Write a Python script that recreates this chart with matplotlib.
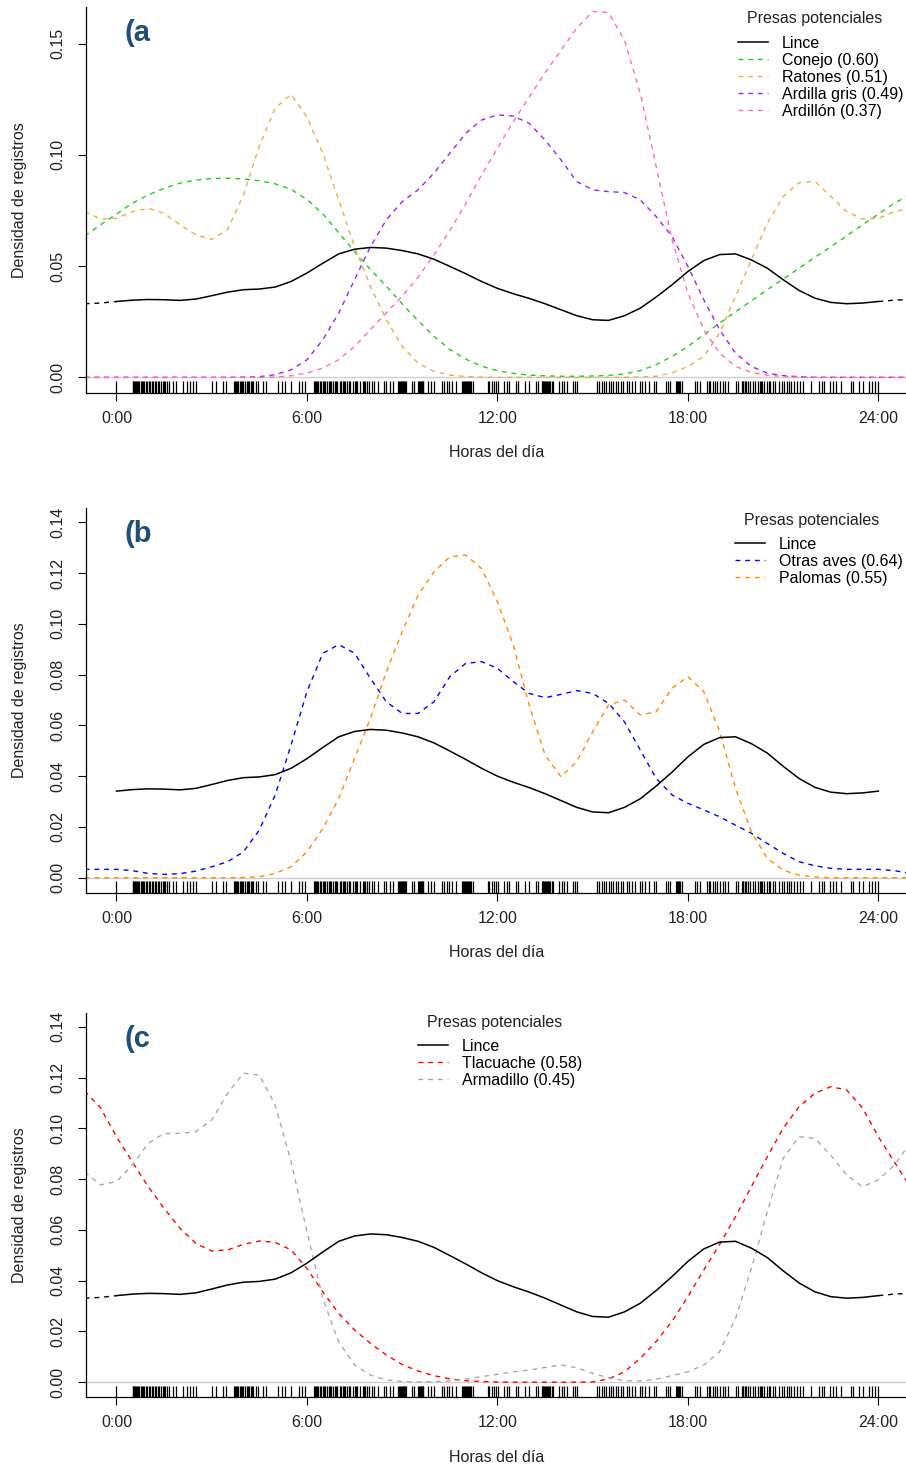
import numpy as np
import matplotlib
matplotlib.use("Agg")
import matplotlib.pyplot as plt

plt.rcParams['font.family'] = ['Liberation Sans', 'DejaVu Sans']

# hours of the day where the density curves were read (every half hour)
hours = np.arange(-1, 25.01, 0.5)

lince = [0.0331, 0.0334, 0.0341, 0.0347, 0.0350, 0.0349, 0.0346, 0.0352, 0.0367, 0.0383,
         0.0394, 0.0397, 0.0406, 0.0431, 0.0469, 0.0513, 0.0555, 0.0576, 0.0584, 0.0581,
         0.0570, 0.0555, 0.0531, 0.0499, 0.0466, 0.0431, 0.0400, 0.0376, 0.0355, 0.0331,
         0.0304, 0.0277, 0.0259, 0.0256, 0.0277, 0.0311, 0.0361, 0.0416, 0.0476, 0.0525,
         0.0552, 0.0555, 0.0528, 0.0491, 0.0439, 0.0391, 0.0356, 0.0337, 0.0331, 0.0334,
         0.0341, 0.0347, 0.0350]

# panel (a)
conejo = [0.0636, 0.0686, 0.0734, 0.0783, 0.0820, 0.0850, 0.0873, 0.0887, 0.0894, 0.0895,
          0.0892, 0.0884, 0.0870, 0.0845, 0.0800, 0.0735, 0.0650, 0.0565, 0.0485, 0.0410,
          0.0330, 0.0255, 0.0185, 0.0125, 0.0082, 0.0050, 0.0030, 0.0018, 0.0010, 0.0007,
          0.0005, 0.0005, 0.0006, 0.0009, 0.0015, 0.0030, 0.0057, 0.0094, 0.0139, 0.0192,
          0.0244, 0.0295, 0.0344, 0.0394, 0.0442, 0.0490, 0.0540, 0.0587, 0.0636, 0.0686,
          0.0734, 0.0783, 0.0820]
ratones = [0.0745, 0.0712, 0.0715, 0.0745, 0.0760, 0.0738, 0.0686, 0.0641, 0.0620, 0.0665,
           0.0820, 0.1040, 0.1210, 0.1272, 0.1170, 0.1007, 0.0798, 0.0588, 0.0409, 0.0259,
           0.0139, 0.0064, 0.0027, 0.0010, 0.0004, 0.0001, 0.0000, 0.0000, 0.0000, 0.0000,
           0.0000, 0.0000, 0.0000, 0.0000, 0.0000, 0.0001, 0.0005, 0.0020, 0.0049, 0.0094,
           0.0199, 0.0364, 0.0528, 0.0693, 0.0813, 0.0875, 0.0882, 0.0813, 0.0745, 0.0712,
           0.0715, 0.0745, 0.0760]
ardilla_gris = [0.0, 0.0, 0.0, 0.0, 0.0, 0.0, 0.0, 0.0, 0.0, 0.0,
                0.0001, 0.0003, 0.0012, 0.0034, 0.0079, 0.0169, 0.0289, 0.0439, 0.0588, 0.0708,
                0.0790, 0.0843, 0.0918, 0.1007, 0.1097, 0.1157, 0.1180, 0.1175, 0.1142, 0.1067,
                0.0978, 0.0880, 0.0843, 0.0835, 0.0831, 0.0798, 0.0723, 0.0633, 0.0499, 0.0349,
                0.0214, 0.0109, 0.0049, 0.0019, 0.0008, 0.0003, 0.0, 0.0, 0.0, 0.0,
                0.0, 0.0, 0.0]
ardillon = [0.0, 0.0, 0.0, 0.0, 0.0, 0.0, 0.0, 0.0, 0.0, 0.0,
            0.0, 0.0, 0.0001, 0.0007, 0.0019, 0.0042, 0.0079, 0.0139, 0.0215, 0.0290,
            0.0365, 0.0450, 0.0550, 0.0660, 0.0780, 0.0910, 0.1030, 0.1150, 0.1260, 0.1370,
            0.1470, 0.1570, 0.1645, 0.1640, 0.1516, 0.1277, 0.0948, 0.0618, 0.0379, 0.0214,
            0.0109, 0.0049, 0.0022, 0.0010, 0.0004, 0.0001, 0.0, 0.0, 0.0, 0.0,
            0.0, 0.0, 0.0]

# panel (b)
otras_aves = [0.0033, 0.0033, 0.0033, 0.0028, 0.0017, 0.0013, 0.0016, 0.0026, 0.0043, 0.0063,
              0.0102, 0.0188, 0.0326, 0.0523, 0.0733, 0.0884, 0.0918, 0.0884, 0.0785, 0.0693,
              0.0647, 0.0647, 0.0693, 0.0792, 0.0844, 0.0851, 0.0825, 0.0772, 0.0726, 0.0709,
              0.0722, 0.0737, 0.0726, 0.0687, 0.0614, 0.0503, 0.0391, 0.0326, 0.0293, 0.0267,
              0.0240, 0.0207, 0.0175, 0.0135, 0.0096, 0.0063, 0.0047, 0.0037, 0.0033, 0.0033,
              0.0033, 0.0028, 0.0017]
palomas = [0.0, 0.0, 0.0, 0.0, 0.0, 0.0, 0.0, 0.0, 0.0, 0.0,
           0.0001, 0.0004, 0.0017, 0.0043, 0.0102, 0.0194, 0.0312, 0.0470, 0.0628, 0.0811,
           0.0969, 0.1113, 0.1205, 0.1264, 0.1271, 0.1218, 0.1087, 0.0916, 0.0680, 0.0483,
           0.0398, 0.0457, 0.0575, 0.0680, 0.0700, 0.0641, 0.0654, 0.0746, 0.0792, 0.0733,
           0.0575, 0.0352, 0.0181, 0.0076, 0.0030, 0.0010, 0.0003, 0.0, 0.0, 0.0,
           0.0, 0.0, 0.0]

# panel (c)
tlacuache = [0.1147, 0.1080, 0.0967, 0.0868, 0.0770, 0.0685, 0.0606, 0.0547, 0.0517, 0.0521,
             0.0543, 0.0556, 0.0551, 0.0521, 0.0448, 0.0356, 0.0271, 0.0206, 0.0153, 0.0107,
             0.0070, 0.0044, 0.0026, 0.0013, 0.0006, 0.0003, 0.0001, 0.0, 0.0, 0.0,
             0.0, 0.0, 0.0001, 0.0013, 0.0041, 0.0094, 0.0160, 0.0240, 0.0337, 0.0442,
             0.0543, 0.0652, 0.0770, 0.0888, 0.1000, 0.1085, 0.1138, 0.1164, 0.1151, 0.1080,
             0.0967, 0.0868, 0.0770]
armadillo = [0.0829, 0.0777, 0.0790, 0.0855, 0.0941, 0.0980, 0.0980, 0.0987, 0.1033, 0.1138,
             0.1217, 0.1210, 0.1092, 0.0869, 0.0593, 0.0330, 0.0159, 0.0068, 0.0028, 0.0009,
             0.0003, 0.0001, 0.0002, 0.0005, 0.0012, 0.0022, 0.0031, 0.0041, 0.0048, 0.0058,
             0.0068, 0.0057, 0.0035, 0.0018, 0.0006, 0.0005, 0.0012, 0.0026, 0.0041, 0.0068,
             0.0120, 0.0251, 0.0448, 0.0672, 0.0882, 0.0967, 0.0960, 0.0894, 0.0816, 0.0770,
             0.0797, 0.0855, 0.0941]

# times of the lynx records (rug)
rug = [0.0, 0.51, 0.53, 0.55, 0.58, 0.61, 0.65, 0.69, 0.72, 0.76, 0.79, 0.84, 0.88, 0.93, 0.97,
       1.03, 1.07, 1.11, 1.16, 1.21, 1.26, 1.30, 1.35, 1.39, 1.45, 1.49, 1.53, 1.60, 1.66, 1.79,
       1.87, 2.10, 2.21, 2.31, 2.42, 2.50, 3.00, 3.13, 3.34, 3.45, 3.70, 3.73, 3.76, 3.80, 3.84,
       3.88, 3.91, 3.96, 4.00, 4.05, 4.10, 4.15, 4.19, 4.23, 4.27, 4.31, 4.39, 4.47, 4.60, 4.71,
       5.10, 5.20, 5.31, 5.49, 5.76, 5.83, 5.94, 6.22, 6.25, 6.28, 6.32, 6.36, 6.40, 6.43, 6.51,
       6.55, 6.58, 6.64, 6.68, 6.72, 6.76, 6.81, 6.88, 6.92, 6.96, 7.04, 7.08, 7.12, 7.16, 7.20,
       7.27, 7.31, 7.35, 7.44, 7.51, 7.55, 7.58, 7.67, 7.75, 7.79, 7.83, 7.90, 7.96, 8.04, 8.12,
       8.25, 8.43, 8.49, 8.63, 8.70, 8.88, 8.90, 8.93, 8.96, 8.98, 9.01, 9.03, 9.06, 9.09, 9.13,
       9.32, 9.38, 9.51, 9.53, 9.56, 9.59, 9.61, 9.64, 9.66, 9.82, 9.91, 9.99, 10.26, 10.33,
       10.40, 10.47, 10.56, 10.68, 10.89, 10.92, 10.94, 10.97, 11.00, 11.03, 11.06, 11.11, 11.14,
       11.17, 11.22, 11.69, 11.75, 11.82, 11.88, 11.94, 12.01, 12.22, 12.29, 12.37, 12.58, 12.64,
       12.87, 12.99, 13.20, 13.27, 13.39, 13.42, 13.44, 13.47, 13.50, 13.53, 13.55, 13.60, 13.62,
       13.65, 13.71, 13.76, 13.95, 14.02, 14.11, 14.19, 14.37, 14.44, 14.52, 15.14, 15.21, 15.28,
       15.35, 15.43, 15.50, 15.57, 15.65, 15.72, 15.81, 15.89, 15.96, 16.07, 16.15, 16.24, 16.32,
       16.49, 16.56, 16.64, 16.77, 16.93, 16.99, 17.31, 17.38, 17.45, 17.64, 17.67, 17.70, 17.73,
       17.75, 17.81, 18.22, 18.29, 18.38, 18.59, 18.65, 18.71, 18.78, 18.85, 18.92, 19.01, 19.09,
       19.18, 19.26, 19.51, 19.59, 19.69, 19.72, 19.74, 19.79, 19.83, 19.90, 19.97, 20.06, 20.12,
       20.20, 20.27, 20.30, 20.33, 20.39, 20.48, 20.55, 20.60, 20.67, 20.74, 20.88, 20.95, 21.03,
       21.11, 21.18, 21.25, 21.33, 21.45, 21.53, 21.61, 21.87, 22.14, 22.22, 22.30, 22.49, 22.56,
       22.65, 22.82, 23.13, 23.20, 23.40, 23.50, 23.71, 23.79, 23.88, 23.98]

xticks = [0, 6, 12, 18, 24]
xticklabels = ["0:00", "6:00", "12:00", "18:00", "24:00"]

panels = [
    {"tag": "(a", "top": 7.0, "bottom": 392.7, "ylim": (-0.0069, 0.1665),
     "yticks": [0.0, 0.05, 0.10, 0.15], "lince_ext": True,
     "series": [("Conejo (0.60)", conejo, "#22CC22"),
                ("Ratones (0.51)", ratones, "#E5B04E"),
                ("Ardilla gris (0.49)", ardilla_gris, "#A020F0"),
                ("Ardillón (0.37)", ardillon, "#FF6EB4")],
     "leg_x": 738, "leg_title": 19},
    {"tag": "(b", "top": 508.3, "bottom": 892.7, "ylim": (-0.0059, 0.1455),
     "yticks": [0.0, 0.02, 0.04, 0.06, 0.08, 0.10, 0.12, 0.14], "lince_ext": False,
     "series": [("Otras aves (0.64)", otras_aves, "#0000FF"),
                ("Palomas (0.55)", palomas, "#FF8C00")],
     "leg_x": 735, "leg_title": 520},
    {"tag": "(c", "top": 1012.8, "bottom": 1397.2, "ylim": (-0.0059, 0.1455),
     "yticks": [0.0, 0.02, 0.04, 0.06, 0.08, 0.10, 0.12, 0.14], "lince_ext": True,
     "series": [("Tlacuache (0.58)", tlacuache, "#FF0000"),
                ("Armadillo (0.45)", armadillo, "#A9A9A9")],
     "leg_x": 418, "leg_title": 1022},
]

W, H = 906.0, 1468.0
fig = plt.figure(figsize=(W / 100, H / 100), dpi=100)

hrs = np.asarray(hours)
lin = np.asarray(lince)
inside = (hrs >= 0) & (hrs <= 24)
dash = (0, (3.5, 3.5))

for p in panels:
    ax = fig.add_axes([86 / W, 1 - p["bottom"] / H, 820 / W, (p["bottom"] - p["top"]) / H])
    ax.set_xlim(-0.96, 24.87)
    ax.set_ylim(*p["ylim"])

    ax.axhline(0, color="#cfcfcf", lw=1.0, zorder=1)

    handles = []
    if p["lince_ext"]:
        ax.plot(hrs[hrs <= 0], lin[hrs <= 0], color="black", lw=1.0, ls=dash, zorder=3)
        ax.plot(hrs[hrs >= 24], lin[hrs >= 24], color="black", lw=1.0, ls=dash, zorder=3)
    h, = ax.plot(hrs[inside], lin[inside], color="black", lw=1.1, zorder=3)
    handles.append((h, "Lince"))
    for name, vals, col in p["series"]:
        h, = ax.plot(hrs, vals, color=col, lw=1.0, ls=dash, zorder=2)
        handles.append((h, name))

    ax.vlines(rug, 0, 0.03, transform=ax.get_xaxis_transform(), color="black", lw=0.9)

    for s in ["top", "right"]:
        ax.spines[s].set_visible(False)
    for s in ["left", "bottom"]:
        ax.spines[s].set_linewidth(0.9)

    ax.set_xticks(xticks)
    ax.set_xticklabels(xticklabels)
    ax.set_yticks(p["yticks"])
    ax.set_yticklabels(["{:.2f}".format(v) for v in p["yticks"]], rotation=90, va="center")
    ax.tick_params(axis="x", direction="out", length=6, width=0.8, pad=7,
                   labelsize=11.5, labelcolor="#222222")
    ax.tick_params(axis="y", direction="out", length=6, width=0.8, pad=9,
                   labelsize=11.5, labelcolor="#222222")

    ax.legend([hh for hh, _ in handles], [n for _, n in handles],
              loc="upper left", frameon=False, fontsize=11.5,
              bbox_to_anchor=((p["leg_x"] - 86) / 820,
                              1 - (p["leg_title"] + 17 - p["top"]) / (p["bottom"] - p["top"])),
              borderpad=0, borderaxespad=0, handlelength=1.9, handletextpad=0.85,
              labelspacing=0.12)
    fig.text((p["leg_x"] + 77) / W, 1 - p["leg_title"] / H, "Presas potenciales",
             ha="center", va="center", fontsize=11.5, color="#222222")

    fig.text(124 / W, 1 - (p["top"] + 26) / H, p["tag"], ha="left", va="center",
             fontsize=21, fontweight="bold", color="#1F4E79")
    fig.text(20 / W, 1 - (p["top"] + p["bottom"]) / 2 / H, "Densidad de registros",
             rotation=90, ha="center", va="center", fontsize=11.5, color="#222222")
    fig.text(497 / W, 1 - (p["bottom"] + 60) / H, "Horas del día",
             ha="center", va="center", fontsize=11.5, color="#222222")

fig.savefig("out.png", dpi=100)
